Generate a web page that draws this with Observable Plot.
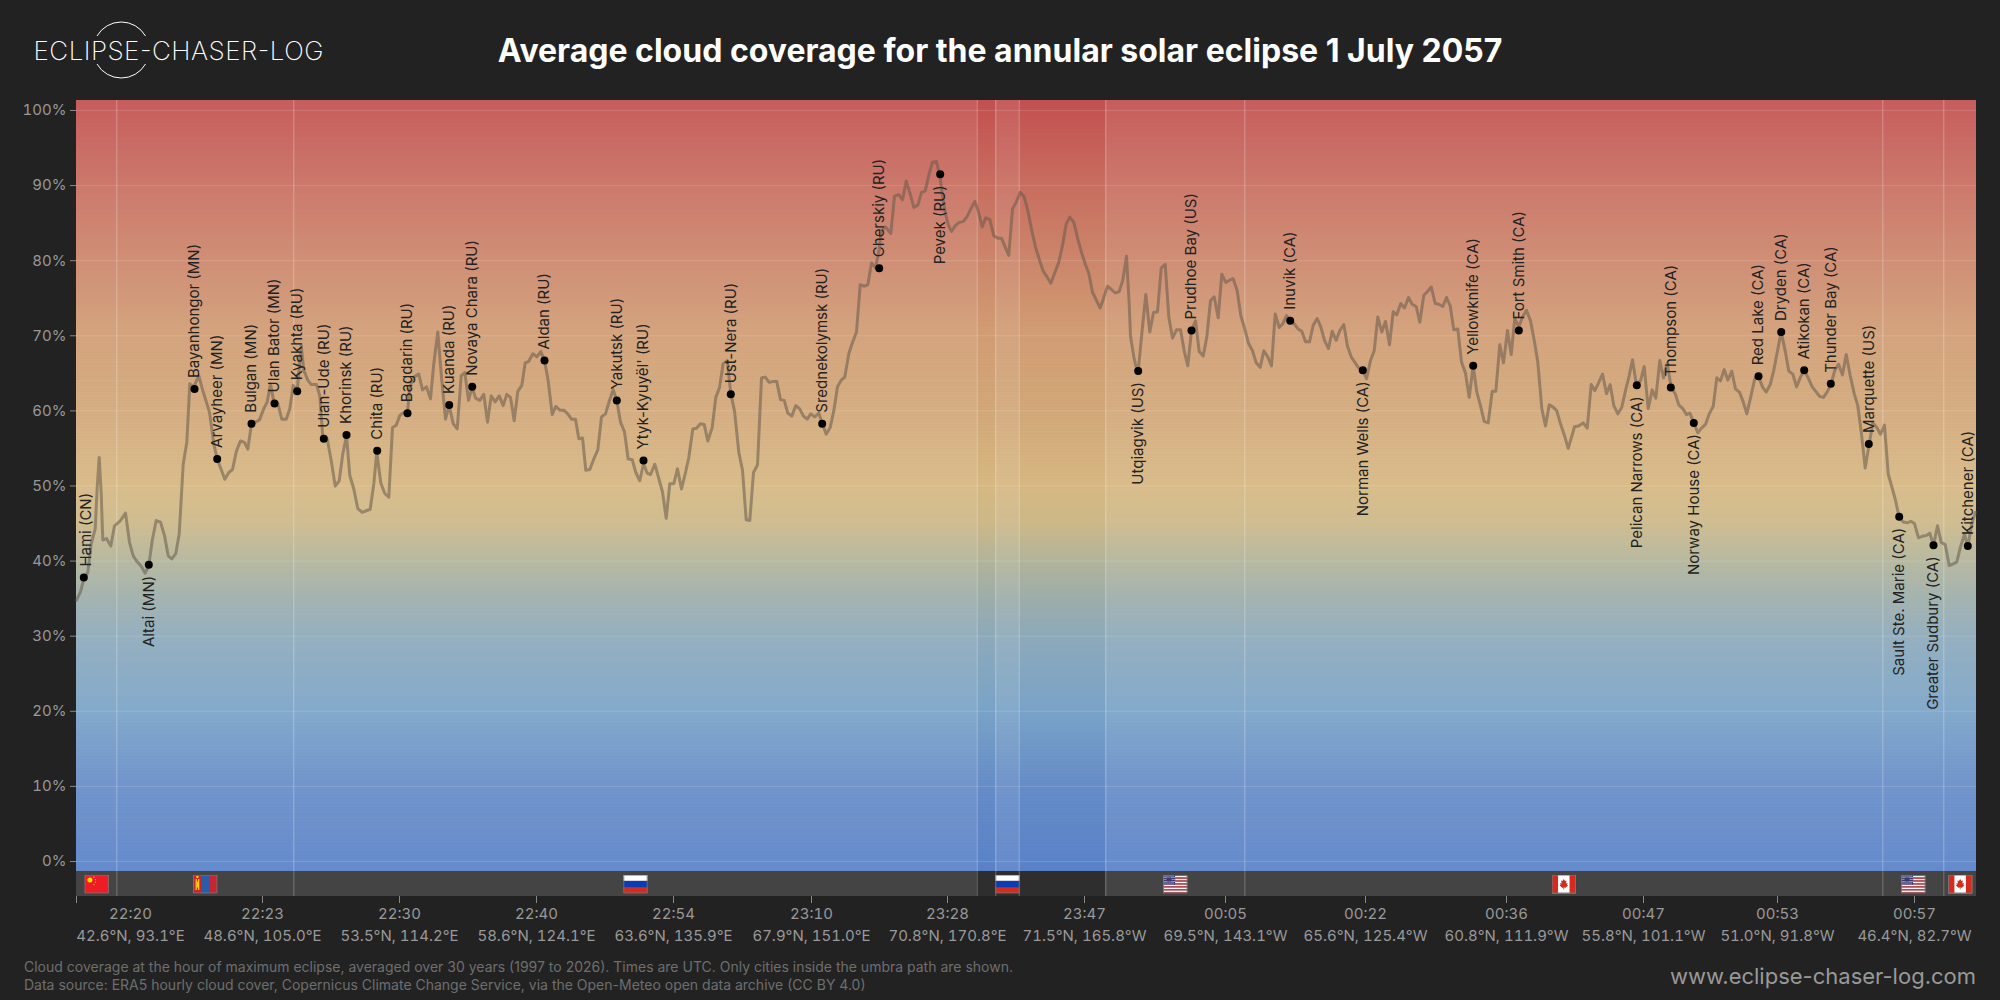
<!DOCTYPE html>
<html><head><meta charset="utf-8">
<script src="https://cdn.jsdelivr.net/npm/d3@7"></script>
<script src="https://cdn.jsdelivr.net/npm/@observablehq/plot@0.6"></script>
<style>
html,body{margin:0;padding:0;background:#222;font-family:Inter,sans-serif;width:2000px;height:1000px;overflow:hidden}
#head{position:relative;height:100px;width:2000px}
#title{position:absolute;left:0;width:2000px;top:30px;text-align:center;color:#fff;font-weight:700;font-size:32px;line-height:42px}
#logo{position:absolute;left:0;top:0}
#foot{position:relative;height:50px;width:2000px}
#note{position:absolute;left:24px;top:8px;color:#6e6e6e;font-size:14px;line-height:18px}
#site{position:absolute;right:24px;top:12px;color:#999;font-size:22px;line-height:28px}
svg{display:block}
</style></head><body>
<div id="head">
<svg id="logo" width="340" height="100">
<path d="M97 36 A28 28 0 0 1 145.5 36 M97 64 A28 28 0 0 0 145.5 64" fill="none" stroke="#fff" stroke-width="1"/>
<text x="33.5" y="59.5" fill="#fff" font-family="Inter" font-weight="200" font-size="26" textLength="290">ECLIPSE-CHASER-LOG</text>
</svg>
<div id="title">Average cloud coverage for the annular solar eclipse 1 July 2057</div>
</div>
<div id="chart"></div>
<div id="foot">
<div id="note">Cloud coverage at the hour of maximum eclipse, averaged over 30 years (1997 to 2026). Times are UTC. Only cities inside the umbra path are shown.<br>Data source: ERA5 hourly cloud cover, Copernicus Climate Change Service, via the Open-Meteo open data archive (CC BY 4.0)</div>
<div id="site">www.eclipse-chaser-log.com</div>
</div>
<script>
// position along the eclipse path (arbitrary track units, 0..1900), mean cloud cover (%)
const cloudSamples = [[0,34.8],[4,35.9],[7.3,37.6],[11.3,38.5],[14.7,42.3],[18.7,44.3],[20.7,49.8],[22.7,53.8],[24.7,49],[26.3,42.8],[30,43],[34.3,42],[38,44.7],[44,45.4],[49,46.4],[53,42.5],[56.7,40.7],[60.7,39.9],[64.7,39.3],[68.7,38.4],[72.3,39.4],[75.7,42.7],[79.7,45.4],[84,45.2],[88,43.4],[91.7,40.7],[95.3,40.3],[99.3,41],[102.7,43.6],[106.7,52.9],[110.3,55.8],[113.3,63.6],[117.3,63.2],[122.3,64.7],[125.7,63],[133,59.8],[137.3,55.6],[140.7,53.6],[144.7,52.2],[148.3,50.9],[152.3,51.8],[156,52.2],[160,54.7],[164,56],[168,55.8],[171.3,54.9],[175,58.3],[179,58.5],[183,58.8],[187.3,60.3],[190.7,61.2],[194,63.6],[197.3,61.2],[201.3,61],[205.3,58.9],[209.7,58.9],[213.3,60.3],[216.7,63.4],[220.7,62.7],[224.7,68.7],[227.3,65.4],[231.3,64.1],[234.7,63.5],[240,63.5],[243.3,62],[246.3,56.5],[250.7,56.3],[254.7,53.4],[258.7,50],[262.7,50.7],[266.3,54.3],[270,56.7],[273.3,51.4],[277.3,49.6],[281.3,47],[285.7,46.5],[289.7,46.7],[293.7,46.9],[297.3,50.3],[300.3,54.5],[304.3,50.4],[308.3,49],[312.3,48.5],[316,57.8],[319.7,58.1],[323.3,59.4],[327.3,59.8],[331,59.7],[333.3,63.2],[337.3,64.5],[342.3,64.9],[346,62.8],[350,63.2],[354,61.6],[357.3,66.3],[361.3,70.5],[365,64.5],[369,58.9],[372.7,60.7],[376.7,58.3],[380.7,57.6],[384.7,64.7],[388.3,65.1],[392,61.4],[395.7,63.2],[399,61.7],[403.3,61.4],[407.3,62.2],[411,58.5],[414.7,62],[418.7,61.2],[422.7,62],[426.7,60.7],[430.3,62.2],[434,61.8],[437.7,58.7],[441.3,62.6],[445.3,63.4],[448.7,66.4],[452.3,66.6],[456.3,67.6],[460.3,67.2],[464.3,67.9],[468,66.7],[471.7,64],[475.7,59.5],[479.3,60.6],[483.3,60.1],[487.3,60.1],[491.3,59.6],[495,58.9],[499,58.9],[502.3,56.3],
[506,56.4],[509.3,52.1],[513.3,52.2],[517.3,53.6],[521.3,54.8],[525,59.2],[529,59.6],[533,61.4],[536.7,62.8],[540.3,61.4],[544,58.5],[548,57.2],[551.7,53.6],[555.7,53.5],[559.3,51.8],[563.3,50.7],[567,53],[570.7,51.7],[574,51.5],[578.3,52.9],[582.3,51],[586,49.2],[589.7,45.7],[593.3,50.3],[597.3,50.3],[601,52.3],[605,49.6],[608.7,51.6],[612.3,53.8],[616.3,57.6],[620,57.7],[624,58.3],[627.7,58.2],[631.3,56],[635.7,57.8],[639.3,61.8],[643,63.1],[646.7,66.3],[650.7,66.7],[654.3,62.3],[658,60],[662.3,54.5],[666,52.1],[669.7,45.5],[673.3,45.4],[677,51.8],[681,52.8],[685,64.4],[688.7,64.5],[692.7,63.8],[696.3,63.9],[700.3,63.9],[704,61.5],[707.7,61.4],[711.3,59.7],[715.3,59.3],[719.3,60.7],[723,60.3],[727,59.3],[730.7,58.9],[734.3,59.6],[738.3,59.2],[742.3,59.7],[745.7,58.4],[749.7,56.9],[753.7,57.8],[757.3,60],[761,63.2],[764.7,64.1],[768.3,64.5],[772.3,67.6],[776,69.1],[780,70.5],[783.7,76.8],[787.3,76.6],[791.3,76.8],[795,79.7],[799,79.1],[802.7,81.4],[804.7,84],[809,84.5],[814.3,83.6],[818,88.6],[822.3,88.8],[826,88.1],[829.7,90.6],[833.7,88.9],[837.3,87.1],[841.3,87.4],[845,89.1],[848.7,89.3],[852.7,91.6],[856,93.1],[860,93.2],[863.7,91.1],[865.7,88.9],[869,86.2],[872,84.7],[875,83.9],[879,84.7],[882.7,85.1],[886.7,85.2],[890.7,85.9],[894.3,86.9],[898.3,87.9],[902,86.5],[905.7,84.5],[909.3,85.7],[913.3,85.5],[917.3,83.3],[921.3,83],[925,83],[928.7,81.8],[932.3,80.7],[936,86.9],[939.7,87.8],[943.7,89.1],[947.7,88.5],[951.3,86.7],[955.3,84],[959,81.8],[963,80.1],[966.7,78.6],[970.7,77.8],[974.3,77],[978.3,78.4],[982.3,79.8],[986,82],[989.7,84.9],[993.3,85.8],[997.3,85.1],[1001.3,82.9],
[1005,81.1],[1008.7,79.6],[1012.3,78.3],[1016,75.8],[1020,74.7],[1023.7,73.7],[1027.3,75.1],[1031,76.6],[1034.7,76.2],[1038.7,75.7],[1042.7,75.9],[1046.3,77.4],[1050,80.6],[1052.7,74.3],[1054,70],[1057.3,67.2],[1059.3,66],[1061.7,65.3],[1065.3,70.3],[1069.3,75.5],[1073.3,70.5],[1077,73.1],[1081,73.2],[1084.7,79],[1088.7,79.5],[1092.3,72.5],[1096,69.7],[1100,70.8],[1104,70.8],[1107.7,68],[1111.3,66],[1115,70.7],[1119,72],[1122.7,67.9],[1126.7,67.3],[1130.3,69.8],[1134,74.7],[1137.7,75.2],[1141.7,72.4],[1145.3,78.2],[1149.3,77.1],[1153,77.4],[1156.7,77.6],[1160.7,76],[1164.3,72.7],[1168.3,70.9],[1172,69],[1176,68],[1179.7,66.4],[1183.7,65.8],[1187.3,68],[1191.3,67.2],[1195,66],[1198.7,72.9],[1202.7,71.1],[1206.3,71.6],[1210,72.7],[1214,72],[1217.7,71.6],[1221.7,70.9],[1225.3,70.6],[1229,69.2],[1233,69.2],[1236.7,71.4],[1240.7,72.3],[1244.3,71.2],[1248,69.4],[1252,68.3],[1255.7,70.6],[1259.7,69.4],[1263.3,70.7],[1267.3,71.5],[1271,68.6],[1274.7,67.2],[1278.7,66.4],[1282.3,65.7],[1286.3,65.4],[1290,64.3],[1294,66.7],[1297.7,68],[1301.3,72.5],[1305.3,70.5],[1309,71.9],[1313,68.8],[1316.7,73.2],[1320.3,72.8],[1324.3,74.3],[1328,73.7],[1332,75.1],[1335.7,74.2],[1339.7,73.9],[1343.3,71.8],[1347.3,75.4],[1351,75.9],[1354.7,76.5],[1358.7,74.3],[1362.3,74.2],[1366.3,73.9],[1370,75.1],[1373.7,74],[1377.3,70.8],[1381.3,70.9],[1385,66.5],[1389,65],[1392.7,61.8],[1396.7,66],[1400.3,62.5],[1404,60.7],[1407.7,58.6],[1411.7,58.4],[1415.7,62.6],[1419.3,62.6],[1423.3,68.8],[1427,66.4],[1431,70.7],[1434.7,67.5],[1438.3,72.3],[1442.3,71.2],[1446,72.5],[1450,73.4],[1454,72],[1457.7,69.4],[1461.3,66.5],[1465.3,60.3],[1469,58],[1472.7,60.8],[1476.7,60.5],[1480.3,60],[1484,58.3],[1488,56.7],[1491.7,55],[1495.7,56.8],
[1498,57.9],[1502,58],[1506.7,58.4],[1510.7,57.7],[1514.7,63.5],[1518.3,62.7],[1522.3,63.8],[1526,64.9],[1530,62.3],[1533.7,63.5],[1537.3,60.7],[1541.3,59.6],[1545.3,60.5],[1549,62.7],[1552.7,64.7],[1556,66.8],[1560,63.4],[1564,64],[1567.7,65.9],[1571.7,60.3],[1575.7,62.8],[1579.3,61.7],[1583.3,66.7],[1587,64.4],[1590.7,66.3],[1594.7,63.1],[1598.7,62.3],[1602.3,60.8],[1606.3,60.3],[1610,59.5],[1613.3,59.7],[1617.3,58.4],[1621.3,57.1],[1625,57.7],[1629,58.2],[1632.7,59.6],[1636.7,60.6],[1640.3,64.4],[1644,64],[1647.7,65.5],[1651.3,64.1],[1655.3,65.3],[1659,62.9],[1663,62.5],[1666.7,61.2],[1670.3,59.6],[1674.3,61.9],[1678.3,64.3],[1682,64.6],[1686,63.2],[1689.7,62.5],[1693.7,63.5],[1697.3,65.4],[1701,68],[1704.7,70.5],[1708.7,68],[1712.3,65.3],[1716.3,64.9],[1720,63.2],[1724,64.5],[1727.7,65.4],[1731.7,64.4],[1735.7,63.2],[1739.3,62.6],[1743.3,61.9],[1747,61.8],[1751,62.6],[1754.7,63.6],[1758.3,65.4],[1762,66.2],[1766,64.8],[1769.7,67.5],[1773.7,64.7],[1777.7,62.3],[1781.3,60.7],[1785,56.9],[1788.7,52.4],[1792.7,55.6],[1796.3,58.4],[1800.3,57.8],[1804,56.9],[1808,58.1],[1811.7,51.6],[1815.3,49.9],[1819,48.1],[1822.7,45.8],[1826.7,45.2],[1830.7,45.1],[1834.3,45.3],[1838,45],[1842,43.1],[1845.7,43.3],[1849.7,43.4],[1853.3,43.7],[1857,42.1],[1861,44.7],[1864.7,42.5],[1868.7,42.2],[1872.7,39.4],[1876.3,39.6],[1880.3,39.9],[1884,41.9],[1888,43.6],[1891.3,41.9],[1895.3,45],[1899,46.5]];

const cityNames = ["Hami (CN)","Altai (MN)","Bayanhongor (MN)","Arvayheer (MN)","Bulgan (MN)","Ulan Bator (MN)","Kyakhta (RU)","Ulan-Ude (RU)","Khorinsk (RU)","Chita (RU)","Bagdarin (RU)","Kuanda (RU)","Novaya Chara (RU)","Aldan (RU)","Yakutsk (RU)","Ytyk-Kyuyël' (RU)","Ust-Nera (RU)","Srednekolymsk (RU)","Cherskiy (RU)","Pevek (RU)","Utqiagvik (US)","Prudhoe Bay (US)","Inuvik (CA)","Norman Wells (CA)","Yellowknife (CA)","Fort Smith (CA)","Pelican Narrows (CA)","Thompson (CA)","Norway House (CA)","Red Lake (CA)","Dryden (CA)","Atikokan (CA)","Thunder Bay (CA)","Marquette (US)","Sault Ste. Marie (CA)","Greater Sudbury (CA)","Kitchener (CA)"];
const cityTrack = [7.3,72.3,118,140.7,175,198,220.7,247.3,270,300.7,331,372.7,395.7,468,540.3,567,654.3,745.7,802.7,863.7,1061.7,1115,1213.7,1286.3,1396.7,1442.3,1560.3,1594.3,1617.3,1682,1704.7,1727.7,1754.3,1792.3,1822.7,1857,1891.3];
const cityCloud = [37.8,39.5,62.9,53.6,58.3,61,62.6,56.3,56.8,54.7,59.7,60.8,63.2,66.7,61.4,53.4,62.2,58.3,79,91.5,65.3,70.7,72,65.4,66,70.7,63.4,63.1,58.4,64.6,70.5,65.4,63.6,55.6,45.9,42.1,42];
const labelsBelow = ["Altai (MN)","Pevek (RU)","Utqiagvik (US)","Norman Wells (CA)","Pelican Narrows (CA)","Norway House (CA)","Sault Ste. Marie (CA)","Greater Sudbury (CA)"];

const segmentKinds = ["CN","MN","RU","sea","RU","sea","US","CA","US","CA"];
const segmentEdges = [0,40.3,217.3,900.7,919.3,942.7,1029.3,1168.3,1806.3,1867.3,1900];

const tickTracks = [186,323,460,597,735,871,1008,1149,1289,1430,1567,1701,1838];
const tickTimes = ["22:20","22:23","22:30","22:40","22:54","23:10","23:28","23:47","00:05","00:22","00:36","00:47","00:53","00:57"];
const tickCoords = ["42.6°N, 93.1°E","48.6°N, 105.0°E","53.5°N, 114.2°E","58.6°N, 124.1°E","63.6°N, 135.9°E","67.9°N, 151.0°E","70.8°N, 170.8°E","71.5°N, 165.8°W","69.5°N, 143.1°W","65.6°N, 125.4°W","60.8°N, 111.9°W","55.8°N, 101.1°W","51.0°N, 91.8°W","46.4°N, 82.7°W"];

const colorStops = [101.4,90,80,70,60,50,45,40,35,30,20,10,-1.4];
const colorValues = ["rgb(195,80,80)","rgb(200,110,96)","rgb(204,134,107)","rgb(209,157,116)","rgb(211,168,121)","rgb(215,184,130)","rgb(204,184,137)","rgb(178,180,154)","rgb(157,173,170)","rgb(141,170,186)","rgb(122,163,200)","rgb(102,141,200)","rgb(90,130,200)"];

const yTop = 101.33, yPlotBottom = -1.33, yBandBottom = -4.66;

const flagW = 24.5, flagH = 19;
const svgUri = s => "data:image/svg+xml," + encodeURIComponent(`<svg xmlns="http://www.w3.org/2000/svg" viewBox="0 0 49 38" preserveAspectRatio="none">${s}<rect x="1" y="1" width="47" height="36" fill="none" stroke="#777" stroke-width="2"/></svg>`);
const usStripes = d3.range(0,13).map(i=>`<rect y="${i*38/13}" width="49" height="${38/13}" fill="${i%2?'#f4f4f4':'#c9424f'}"/>`).join("");
const flags = {
 CN: svgUri(`<rect width="49" height="38" fill="#ee1c25"/><circle cx="11" cy="11" r="5" fill="#ffdd00"/><circle cx="19" cy="5" r="1.3" fill="#ffdd00"/><circle cx="22" cy="10" r="1.3" fill="#ffdd00"/><circle cx="22" cy="15" r="1.3" fill="#ffdd00"/><circle cx="19" cy="20" r="1.3" fill="#ffdd00"/>`),
 MN: svgUri(`<rect width="49" height="38" fill="#c4272f"/><rect x="16.3" width="16.4" height="38" fill="#2a5caa"/><rect x="5" y="9" width="2.5" height="22" fill="#f9cf02"/><rect x="10" y="9" width="2.5" height="22" fill="#f9cf02"/><rect x="7" y="14" width="4" height="12" fill="#f9cf02"/><circle cx="8.7" cy="5" r="2.5" fill="#f9cf02"/>`),
 RU: svgUri(`<rect width="49" height="12.7" fill="#fff"/><rect y="12.7" width="49" height="12.7" fill="#0c3cb4"/><rect y="25.4" width="49" height="12.6" fill="#d52b1e"/>`),
 US: svgUri(`${usStripes}<rect width="24" height="20.5" fill="#3c3b6e"/><rect x="3" y="3" width="18" height="14" fill="none" stroke="#8f8fb5" stroke-width="8" stroke-dasharray="2 2"/>`),
 CA: svgUri(`<rect width="49" height="38" fill="#fff"/><rect width="13" height="38" fill="#d52b1e"/><rect x="36" width="13" height="38" fill="#d52b1e"/><path d="M24.5 9 L27 13 L30 12 L28.7 18 L32 17 L31 21 L33 22 L27 27 L25.2 25.5 L25.2 30 L23.8 30 L23.8 25.5 L22 27 L16 22 L18 21 L17 17 L20.3 18 L19 12 L22 13 Z" fill="#d52b1e"/>`)
};

const segments = segmentKinds.map((kind,i)=>({kind,x1:segmentEdges[i],x2:segmentEdges[i+1]}));
const land = segments.filter(s=>s.kind!=="sea");
// the Russian stretch between the two sea crossings keeps the dark strip behind its flag
const bandDark = s => s.x1 >= segmentEdges[3] && s.x2 <= segmentEdges[6];
const cities = cityNames.map((name,i)=>({name,x:cityTrack[i],y:cityCloud[i],below:labelsBelow.includes(name)}));
const line = cloudSamples.map(([x,y])=>({x,y}));
const gradColor = d3.scaleLinear().domain(colorStops).range(colorValues);
const stripeStep = 0.2;
const stripes = d3.range(yPlotBottom,yTop,stripeStep).map(v=>({v}));
const cityFont = {fontFamily:"Inter",fontSize:15,fill:"#222",rotate:-90,text:"name",x:"x",y:"y"};
const isFirst = d => d.name === cityNames[0];

const chart = Plot.plot({
  width:2000,height:850,marginLeft:76,marginRight:24,marginTop:0,marginBottom:54,
  style:{background:"#222",fontFamily:"Inter"},
  x:{domain:[0,1900]},
  y:{domain:[yBandBottom,yTop]},
  marks:[
    Plot.rect(stripes,{x1:0,x2:1900,y1:"v",y2:d=>d.v+stripeStep*1.5,fill:d=>gradColor(d.v+stripeStep/2)}),
    Plot.rect(land,{x1:"x1",x2:"x2",y1:yPlotBottom,y2:yTop,fill:"#fff",fillOpacity:.08}),
    Plot.rect(segments,{x1:"x1",x2:"x2",y1:yBandBottom,y2:yPlotBottom,fill:d=>bandDark(d)?"#2e2e2e":"#444"}),
    Plot.ruleY(d3.range(0,101,10),{stroke:"#fff",strokeOpacity:.14}),
    Plot.ruleX(segmentEdges.slice(1,-1),{y1:yBandBottom,y2:yTop,stroke:"#fff",strokeOpacity:.3}),
    Plot.image(land,{x:d=>(d.x1+d.x2)/2,y:-3,width:flagW,height:flagH,preserveAspectRatio:"none",src:d=>flags[d.kind]}),
    Plot.line(line,{x:"x",y:"y",stroke:"#665a4a",strokeOpacity:.55,strokeWidth:3,strokeLinejoin:"round"}),
    Plot.dot(cities,{x:"x",y:"y",r:4,fill:"#000",stroke:"none"}),
    Plot.text(cities.filter(d=>!d.below&&!isFirst(d)),{...cityFont,textAnchor:"start",dy:-11}),
    Plot.text(cities.filter(isFirst),{...cityFont,textAnchor:"start",dy:-11,dx:2}),
    Plot.text(cities.filter(d=>d.below),{...cityFont,textAnchor:"end",dy:11}),
    Plot.axisY({ticks:d3.range(0,101,10),tickFormat:d=>d+"%",tickSize:6,tickPadding:4,stroke:"#888",fill:"#999",fontSize:15,fontFamily:"Inter"}),
    Plot.axisX({ticks:[0,...tickTracks],tickSize:7,stroke:"#888",fill:"none"}),
    Plot.axisX({ticks:[54,...tickTracks],tickSize:0,tickPadding:7,fill:"#999",fontSize:15,fontFamily:"Inter",lineHeight:1.45,
      tickFormat:d=>{const i=[54,...tickTracks].indexOf(d);return tickTimes[i]+"\n"+tickCoords[i];}})
  ]
});
document.getElementById("chart").appendChild(chart);
</script>
</body></html>
